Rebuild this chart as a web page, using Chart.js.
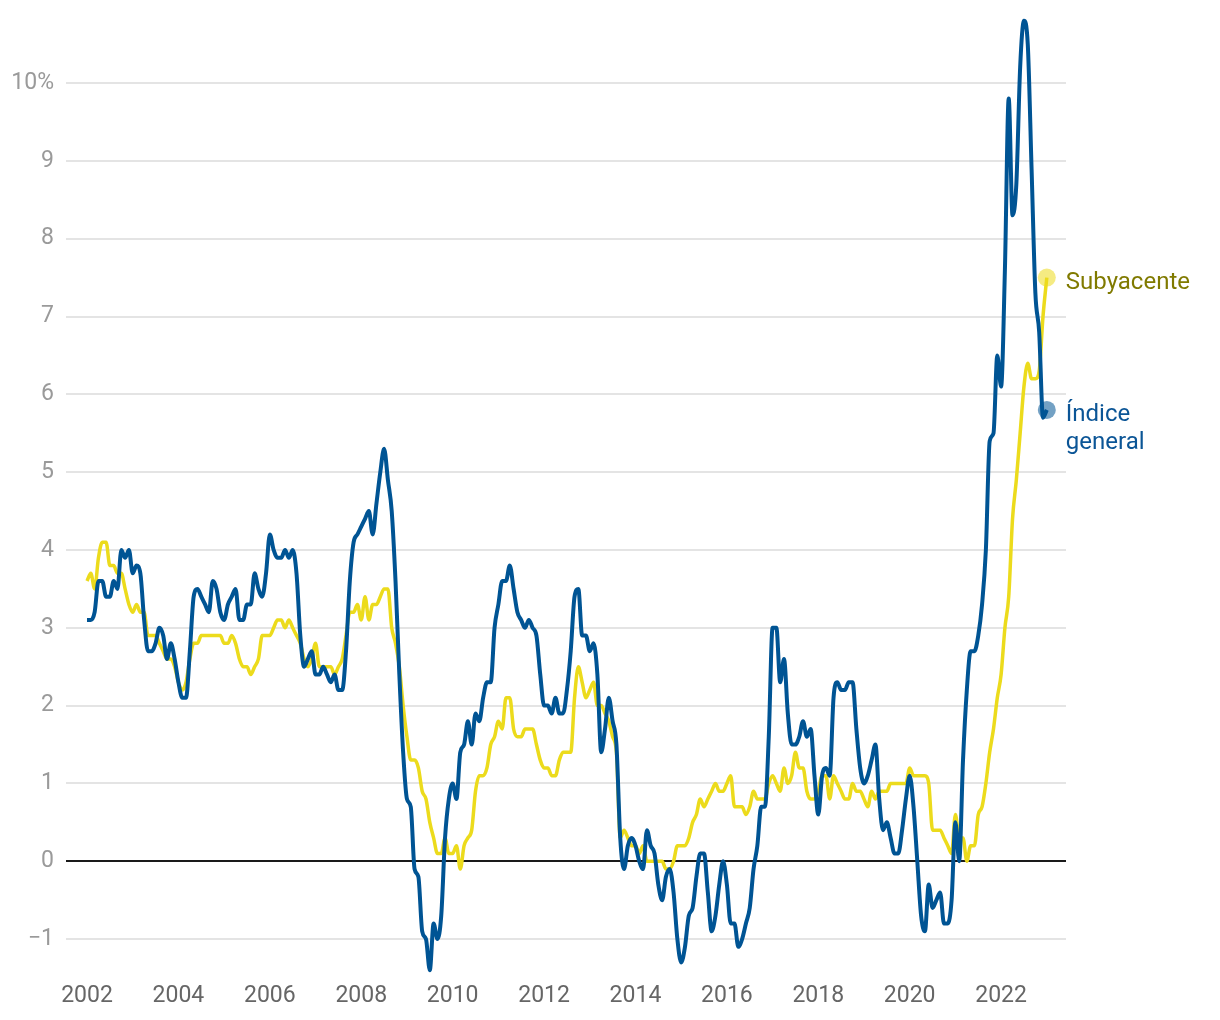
<!DOCTYPE html>
<html lang="es">
<head>
<meta charset="utf-8">
<title>IPC general y subyacente</title>
<script src="https://cdn.jsdelivr.net/npm/chart.js@4/dist/chart.umd.min.js"></script>
<style>
  html, body { margin: 0; padding: 0; background: #fff; }
  #wrap { width: 1220px; height: 1020px; position: relative; }
</style>
</head>
<body>
<div id="wrap"><canvas id="ipc-chart"></canvas></div>
<script>
// Serie mensual: enero 2002 -> enero 2023 (tasa anual, %)
const startYear = 2002;

const generalIndex = [
  3.1, 3.1, 3.2, 3.6, 3.6, 3.4, 3.4, 3.6, 3.5, 4.0, 3.9, 4.0,       // 2002
  3.7, 3.8, 3.7, 3.1, 2.7, 2.7, 2.8, 3.0, 2.9, 2.6, 2.8, 2.6,       // 2003
  2.3, 2.1, 2.1, 2.7, 3.4, 3.5, 3.4, 3.3, 3.2, 3.6, 3.5, 3.2,       // 2004
  3.1, 3.3, 3.4, 3.5, 3.1, 3.1, 3.3, 3.3, 3.7, 3.5, 3.4, 3.7,       // 2005
  4.2, 4.0, 3.9, 3.9, 4.0, 3.9, 4.0, 3.7, 2.9, 2.5, 2.6, 2.7,       // 2006
  2.4, 2.4, 2.5, 2.4, 2.3, 2.4, 2.2, 2.2, 2.7, 3.6, 4.1, 4.2,       // 2007
  4.3, 4.4, 4.5, 4.2, 4.6, 5.0, 5.3, 4.9, 4.5, 3.6, 2.4, 1.4,       // 2008
  0.8, 0.7, -0.1, -0.2, -0.9, -1.0, -1.4, -0.8, -1.0, -0.7, 0.3, 0.8, // 2009
  1.0, 0.8, 1.4, 1.5, 1.8, 1.5, 1.9, 1.8, 2.1, 2.3, 2.3, 3.0,       // 2010
  3.3, 3.6, 3.6, 3.8, 3.5, 3.2, 3.1, 3.0, 3.1, 3.0, 2.9, 2.4,       // 2011
  2.0, 2.0, 1.9, 2.1, 1.9, 1.9, 2.2, 2.7, 3.4, 3.5, 2.9, 2.9,       // 2012
  2.7, 2.8, 2.4, 1.4, 1.7, 2.1, 1.8, 1.5, 0.3, -0.1, 0.2, 0.3,      // 2013
  0.2, 0.0, -0.1, 0.4, 0.2, 0.1, -0.3, -0.5, -0.2, -0.1, -0.4, -1.0, // 2014
  -1.3, -1.1, -0.7, -0.6, -0.2, 0.1, 0.1, -0.4, -0.9, -0.7, -0.3, 0.0, // 2015
  -0.3, -0.8, -0.8, -1.1, -1.0, -0.8, -0.6, -0.1, 0.2, 0.7, 0.7, 1.6, // 2016
  3.0, 3.0, 2.3, 2.6, 1.9, 1.5, 1.5, 1.6, 1.8, 1.6, 1.7, 1.1,       // 2017
  0.6, 1.1, 1.2, 1.1, 2.1, 2.3, 2.2, 2.2, 2.3, 2.3, 1.7, 1.2,       // 2018
  1.0, 1.1, 1.3, 1.5, 0.8, 0.4, 0.5, 0.3, 0.1, 0.1, 0.4, 0.8,       // 2019
  1.1, 0.7, 0.0, -0.7, -0.9, -0.3, -0.6, -0.5, -0.4, -0.8, -0.8, -0.5, // 2020
  0.5, 0.0, 1.3, 2.2, 2.7, 2.7, 2.9, 3.3, 4.0, 5.4, 5.5, 6.5,       // 2021
  6.1, 7.6, 9.8, 8.3, 8.7, 10.2, 10.8, 10.5, 8.9, 7.3, 6.8, 5.7,    // 2022
  5.8                                                               // 2023
];

const coreIndex = [
  3.6, 3.7, 3.5, 3.9, 4.1, 4.1, 3.8, 3.8, 3.7, 3.7, 3.5, 3.3,       // 2002
  3.2, 3.3, 3.2, 3.2, 2.9, 2.9, 2.9, 2.8, 2.7, 2.6, 2.6, 2.5,       // 2003
  2.3, 2.2, 2.3, 2.6, 2.8, 2.8, 2.9, 2.9, 2.9, 2.9, 2.9, 2.9,       // 2004
  2.8, 2.8, 2.9, 2.8, 2.6, 2.5, 2.5, 2.4, 2.5, 2.6, 2.9, 2.9,       // 2005
  2.9, 3.0, 3.1, 3.1, 3.0, 3.1, 3.0, 2.9, 2.8, 2.6, 2.5, 2.6,       // 2006
  2.8, 2.5, 2.5, 2.5, 2.5, 2.4, 2.5, 2.6, 2.9, 3.2, 3.2, 3.3,       // 2007
  3.1, 3.4, 3.1, 3.3, 3.3, 3.4, 3.5, 3.5, 3.0, 2.8, 2.5, 2.0,       // 2008
  1.6, 1.3, 1.3, 1.2, 0.9, 0.8, 0.5, 0.3, 0.1, 0.1, 0.3, 0.1,       // 2009
  0.1, 0.2, -0.1, 0.2, 0.3, 0.4, 0.9, 1.1, 1.1, 1.2, 1.5, 1.6,      // 2010
  1.8, 1.7, 2.1, 2.1, 1.7, 1.6, 1.6, 1.7, 1.7, 1.7, 1.5, 1.3,       // 2011
  1.2, 1.2, 1.1, 1.1, 1.3, 1.4, 1.4, 1.4, 2.1, 2.5, 2.3, 2.1,       // 2012
  2.2, 2.3, 2.0, 2.0, 1.9, 1.8, 1.6, 1.4, 0.3, 0.4, 0.3, 0.2,       // 2013
  0.2, 0.1, 0.2, 0.0, 0.0, 0.0, 0.0, 0.0, -0.1, -0.1, 0.0, 0.2,     // 2014
  0.2, 0.2, 0.3, 0.5, 0.6, 0.8, 0.7, 0.8, 0.9, 1.0, 0.9, 0.9,       // 2015
  1.0, 1.1, 0.7, 0.7, 0.7, 0.6, 0.7, 0.9, 0.8, 0.8, 0.8, 1.0,       // 2016
  1.1, 1.0, 0.9, 1.2, 1.0, 1.1, 1.4, 1.2, 1.2, 0.9, 0.8, 0.8,       // 2017
  0.9, 1.1, 1.1, 0.8, 1.1, 1.0, 0.9, 0.8, 0.8, 1.0, 0.9, 0.9,       // 2018
  0.8, 0.7, 0.9, 0.8, 0.9, 0.9, 0.9, 1.0, 1.0, 1.0, 1.0, 1.0,       // 2019
  1.2, 1.1, 1.1, 1.1, 1.1, 1.0, 0.4, 0.4, 0.4, 0.3, 0.2, 0.1,       // 2020
  0.6, 0.3, 0.3, 0.0, 0.2, 0.2, 0.6, 0.7, 1.0, 1.4, 1.7, 2.1,       // 2021
  2.4, 3.0, 3.4, 4.4, 4.9, 5.5, 6.1, 6.4, 6.2, 6.2, 6.3, 7.0,       // 2022
  7.5                                                               // 2023
];

const yearTicks = [2002, 2004, 2006, 2008, 2010, 2012, 2014, 2016, 2018, 2020, 2022];
const valueTicks = [-1, 0, 1, 2, 3, 4, 5, 6, 7, 8, 9, 10];

const BLUE = '#005494';
const YELLOW = '#ecdb1c';
const FONT = 'Roboto';

function toPoints(values) {
    return values.map((v, i) => ({ x: startYear + i / 12, y: v }));
}

function endDot(values, color) {
    const last = values.length - 1;
    return {
        pointRadius: ctx => (ctx.dataIndex === last ? 9 : 0),
        pointHoverRadius: 0,
        pointBorderWidth: 0,
        pointBackgroundColor: color
    };
}

// rótulos al final de cada serie
const endLabels = {
    id: 'endLabels',
    afterDatasetsDraw(chart) {
        const { ctx } = chart;
        chart.data.datasets.forEach((ds, i) => {
            const meta = chart.getDatasetMeta(i);
            const pt = meta.data[meta.data.length - 1];
            ctx.save();
            ctx.font = `24px ${FONT}`;
            ctx.fillStyle = ds.labelColor;
            ctx.textAlign = 'left';
            ctx.textBaseline = 'middle';
            ds.endLabel.forEach((line, j) => {
                ctx.fillText(line, pt.x + 19, pt.y + 5 + j * 28);
            });
            ctx.restore();
        });
    }
};

Chart.defaults.font.family = FONT;

new Chart(document.getElementById('ipc-chart'), {
    type: 'line',
    data: {
        datasets: [
            {
                label: 'Índice general',
                data: toPoints(generalIndex),
                borderColor: BLUE,
                borderWidth: 4,
                cubicInterpolationMode: 'monotone',
                order: 0,
                labelColor: '#0b5596',
                endLabel: ['Índice', 'general'],
                ...endDot(generalIndex, 'rgba(0,84,148,0.55)')
            },
            {
                label: 'Subyacente',
                data: toPoints(coreIndex),
                borderColor: YELLOW,
                borderWidth: 3.5,
                cubicInterpolationMode: 'monotone',
                order: 1,
                labelColor: '#807a00',
                endLabel: ['Subyacente'],
                ...endDot(coreIndex, 'rgba(236,219,28,0.55)')
            }
        ]
    },
    options: {
        responsive: true,
        maintainAspectRatio: false,
        animation: false,
        layout: { padding: { top: 13, right: 154, bottom: 10, left: 12 } },
        plugins: {
            legend: { display: false },
            tooltip: { enabled: false }
        },
        scales: {
            x: {
                type: 'linear',
                min: 2001.54,
                max: 2023.42,
                afterBuildTicks: scale => { scale.ticks = yearTicks.map(v => ({ value: v })); },
                afterFit: scale => {
                    scale.height = 32;
                    scale.paddingLeft = 0;
                    scale.paddingRight = 0;
                },
                grid: { display: false, drawTicks: false },
                border: { display: false },
                ticks: {
                    autoSkip: false,
                    maxRotation: 0,
                    padding: 4,
                    color: '#666',
                    font: { size: 23 },
                    callback: v => String(v)
                }
            },
            y: {
                min: -1.5,
                max: 10.9,
                afterBuildTicks: scale => { scale.ticks = valueTicks.map(v => ({ value: v })); },
                afterFit: scale => {
                    scale.width = 54;
                    scale.paddingTop = 0;
                    scale.paddingBottom = 0;
                },
                grid: {
                    drawTicks: false,
                    lineWidth: 2,
                    color: ctx => (ctx.tick && ctx.tick.value === 0 ? '#1a1a1a' : '#e4e4e4')
                },
                border: { display: false },
                ticks: {
                    padding: 12,
                    color: '#9a9a9a',
                    font: { size: 23 },
                    callback: v => (v === 10 ? '10%' : v < 0 ? '\u2212' + Math.abs(v) : String(v))
                }
            }
        }
    },
    plugins: [endLabels]
});
</script>
</body>
</html>
